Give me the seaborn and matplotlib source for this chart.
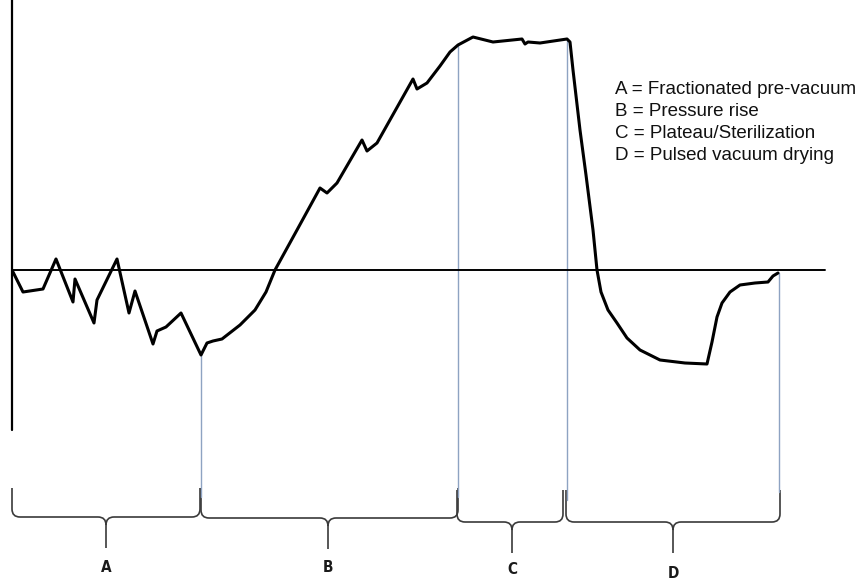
import numpy as np
import pandas as pd
import matplotlib
matplotlib.use("Agg")
import matplotlib.pyplot as plt
from matplotlib.path import Path
from matplotlib.patches import PathPatch
import seaborn as sns

# ---- data (time units, pressure relative to atmospheric baseline) ----
time = [13, 23, 43, 56, 73, 75, 94, 97, 117, 129, 135, 153, 157, 166, 181, 201,
        207, 213, 222, 240, 255, 266, 275, 297, 320, 327, 337, 362, 367, 377, 413, 417, 427,
        440, 450, 458, 473, 493, 522, 525, 528, 540, 567, 570, 573, 580, 586, 593, 597,
        601, 608, 617, 627, 640, 660, 685, 707, 712, 717, 722, 730, 740, 755, 768, 773, 778]
pressure = [-2, -22, -19, 11, -32, -9, -53, -30, 11, -43, -21, -74, -61, -57, -43, -85,
            -73, -71, -69, -55, -40, -22, 0, 40, 82, 77, 87, 130, 119, 127, 191, 181, 187,
            204, 218, 225, 233, 228, 231, 226, 228, 227, 231, 228, 200, 140, 95, 40, 0,
            -22, -40, -53, -68, -80, -90, -93, -94, -72, -47, -33, -22, -15, -13, -12, -6, -3]

phase_labels = ["A", "B", "C", "D"]
phase_start = [12, 201, 457, 566]
phase_end = [200, 458, 563, 780]
phase_tip = [106, 328, 512, 673]
boundary_x = [201, 458, 567, 779]
boundary_top = [-85, 225, 229, -3]
boundary_bottom = [-227, -227, -230, -222]
legend_lines = ["A = Fractionated pre-vacuum", "B = Pressure rise",
                "C = Plateau/Sterilization", "D = Pulsed vacuum drying"]

sns.set_theme(style="white")
fig = plt.figure(figsize=(8.64, 5.81), dpi=100)
ax = fig.add_axes([0, 0, 1, 1])
ax.set_xlim(0, 864)
ax.set_ylim(-311, 270)
ax.axis("off")

df = pd.DataFrame({"time": time, "pressure": pressure})
sns.lineplot(data=df, x="time", y="pressure", sort=False, color="black",
             linewidth=2.2, ax=ax, zorder=5)
ax.lines[-1].set_solid_joinstyle("round")
ax.lines[-1].set_solid_capstyle("round")

# axes lines
ax.plot([12, 825], [0, 0], color="black", linewidth=1.4, zorder=3)
ax.plot([12, 12], [270, -160], color="black", linewidth=1.6, zorder=3)

# phase boundaries
for bx, bt, bb in zip(boundary_x, boundary_top, boundary_bottom):
    ax.plot([bx, bx], [bt, bb], color="#8ea3c2", linewidth=1.0, zorder=2)

# braces
def brace(x0, x1, xc, top, mid, tip, r=8):
    verts = [(x0, top), (x0, mid + r), (x0, mid), (x0 + r, mid),
             (xc - r, mid), (xc, mid), (xc, mid - r), (xc, tip)]
    codes = [Path.MOVETO, Path.LINETO, Path.CURVE3, Path.CURVE3,
             Path.LINETO, Path.CURVE3, Path.CURVE3, Path.LINETO]
    verts2 = [(x1, top), (x1, mid + r), (x1, mid), (x1 - r, mid),
              (xc + r, mid), (xc, mid), (xc, mid - r)]
    codes2 = [Path.MOVETO, Path.LINETO, Path.CURVE3, Path.CURVE3,
              Path.LINETO, Path.CURVE3, Path.CURVE3]
    p = Path(verts + verts2, codes + codes2)
    ax.add_patch(PathPatch(p, fill=False, edgecolor="#3a3a3a", linewidth=1.2))

brace_geom = [(-218, -247, -278), (-218, -248, -279),
              (-220, -252, -283), (-220, -252, -283)]
label_y = [-298, -298, -300, -304]
for lab, x0, x1, xc, g, ly in zip(phase_labels, phase_start, phase_end,
                                  phase_tip, brace_geom, label_y):
    brace(x0, x1, xc, *g)
    ax.text(xc, ly, lab, ha="center", va="center", fontsize=11,
            fontweight="bold", fontstretch="condensed",
            family=["DejaVu Sans"], color="#1a1a1a")

# legend text
for i, t in enumerate(legend_lines):
    ax.text(615, 180 - i * 22, t, ha="left", va="center", fontsize=13.5,
            family=["Liberation Sans", "DejaVu Sans"], color="#111111")

fig.savefig("out.png", dpi=100)
